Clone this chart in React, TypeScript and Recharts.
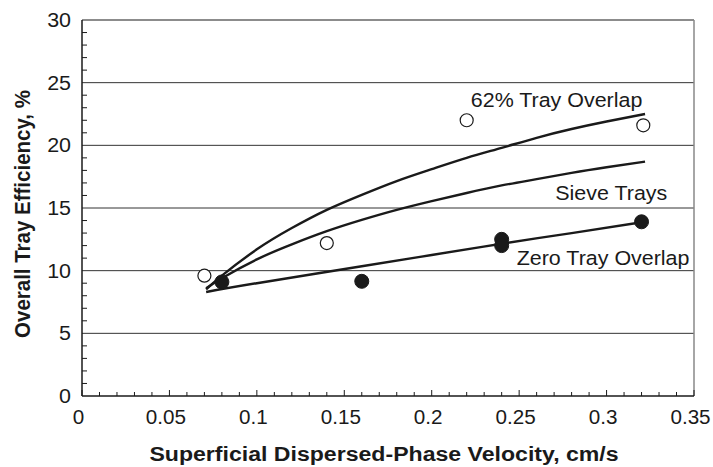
import { ComposedChart, Line, Scatter, XAxis, YAxis, CartesianGrid, ReferenceLine, ReferenceDot } from 'recharts'

// measured points
const openX = [0.07, 0.14, 0.22, 0.321]
const openY = [9.6, 12.2, 22.0, 21.6]
const filledX = [0.08, 0.16, 0.24, 0.24, 0.32]
const filledY = [9.1, 9.15, 12.5, 12.0, 13.9]

// correlation curves
const overlapX = [0.071, 0.08, 0.1, 0.12, 0.14, 0.16, 0.18, 0.2, 0.22, 0.24, 0.26, 0.28, 0.3, 0.322]
const overlapY = [8.5, 9.6, 11.7, 13.4, 14.85, 16.05, 17.15, 18.1, 19.0, 19.8, 20.6, 21.3, 21.9, 22.5]
const sieveX = [0.071, 0.08, 0.1, 0.12, 0.14, 0.16, 0.18, 0.2, 0.22, 0.24, 0.26, 0.28, 0.3, 0.322]
const sieveY = [8.6, 9.4, 10.9, 12.1, 13.15, 14.05, 14.85, 15.55, 16.2, 16.8, 17.3, 17.8, 18.25, 18.7]
const zeroX = [0.071, 0.1, 0.16, 0.2, 0.24, 0.28, 0.322]
const zeroY = [8.3, 9.0, 10.35, 11.25, 12.15, 13.0, 13.9]

const gridValues = [5, 10, 15, 20, 25, 30]
const curveLabels = [
  { text: '62% Tray Overlap', x: 0.2714, y: 23.6 },
  { text: 'Sieve Trays', x: 0.3027, y: 16.2 },
  { text: 'Zero Tray Overlap', x: 0.298, y: 11.0 },
]

const xTicks = Array.from({ length: 36 }, (_, i) => i / 100)
const yTicks = Array.from({ length: 31 }, (_, i) => i)

const pts = (xs: number[], ys: number[]) => xs.map((x, i) => ({ x, y: ys[i] }))

const font = 'Liberation Sans, Arial, sans-serif'
const ink = '#1a1a1a'
const stretch = 1.1 // the source figure is a little wider than tall

const Wide = ({ x, y, anchor, size, bold, sx, children }: any) => (
  <text
    transform={`translate(${x},${y}) scale(${sx ?? stretch},1)`}
    textAnchor={anchor}
    fontSize={size}
    fontWeight={bold ? 'bold' : 'normal'}
    fill={ink}
    fontFamily={font}
  >
    {children}
  </text>
)

const XTick = (props: any) => {
  const { x, y, payload } = props
  const v = payload.value
  const major = Math.abs(v * 20 - Math.round(v * 20)) < 1e-6
  return (
    <g>
      <line x1={x} y1={y} x2={x} y2={y - (major ? 6 : 4)} stroke={ink} strokeWidth={1} />
      {major && (
        <Wide x={x - 3.5} y={y + 28} anchor="middle" size={19.5} sx={1.06}>
          {String(Math.round(v * 100) / 100)}
        </Wide>
      )}
    </g>
  )
}

const YTick = (props: any) => {
  const { x, y, payload } = props
  const v = payload.value
  const major = v % 5 === 0
  return (
    <g>
      {!major && <line x1={x} y1={y} x2={x + 5} y2={y} stroke={ink} strokeWidth={1} />}
      {major && (
        <Wide x={x - 11} y={y + 7} anchor="end" size={19.5}>
          {v}
        </Wide>
      )}
    </g>
  )
}

const XTitle = (props: any) => {
  const { x, y, width } = props.viewBox
  return (
    <Wide x={x + width / 2 - 4} y={y + 65} anchor="middle" size={21} bold>
      Superficial Dispersed-Phase Velocity, cm/s
    </Wide>
  )
}

const YTitle = (props: any) => {
  const { y, height } = props.viewBox
  const cy = y + height / 2 + 6
  return (
    <text
      transform={`translate(30,${cy}) rotate(-90) scale(1,${stretch})`}
      textAnchor="middle"
      fontSize={20.5}
      fontWeight="bold"
      fill={ink}
      fontFamily={font}
    >
      Overall Tray Efficiency, %
    </text>
  )
}

const CurveLabel = (text: string) => (props: any) => {
  const { x, y } = props.viewBox
  return (
    <Wide x={x} y={y + 7} anchor="middle" size={19.5}>
      {text}
    </Wide>
  )
}

const OpenDot = (props: any) => (
  <circle cx={props.cx} cy={props.cy} r={6.5} fill="#fff" stroke={ink} strokeWidth={1.2} />
)
const FilledDot = (props: any) => (
  <circle cx={props.cx} cy={props.cy} r={7} fill={ink} stroke={ink} />
)

export default function App() {
  return (
    <div style={{ position: 'absolute', left: 0, top: 0, background: '#fff' }}>
      <ComposedChart width={713} height={467} margin={{ top: 20, right: 19, bottom: 0, left: 0 }}>
        <CartesianGrid vertical={false} horizontalValues={gridValues} stroke="#333" strokeWidth={1} />
        <XAxis
          type="number"
          dataKey="x"
          domain={[0, 0.35]}
          ticks={xTicks}
          interval={0}
          tickSize={0}
          tickMargin={0}
          tickLine={false}
          tick={<XTick />}
          height={71}
          stroke={ink}
          strokeWidth={1.5}
          allowDataOverflow
          label={{ content: XTitle }}
        />
        <YAxis
          type="number"
          domain={[0, 30]}
          ticks={yTicks}
          interval={0}
          tickSize={0}
          tickMargin={0}
          tickLine={false}
          tick={<YTick />}
          width={82}
          stroke={ink}
          strokeWidth={1.5}
          label={{ content: YTitle }}
        />
        <ReferenceLine x={0.35} stroke="#888" strokeWidth={1.5} />
        <ReferenceLine y={30} stroke="#888" strokeWidth={1.5} />
        <Line data={pts(overlapX, overlapY)} dataKey="y" type="natural" stroke={ink} strokeWidth={2.4} dot={false} isAnimationActive={false} />
        <Line data={pts(sieveX, sieveY)} dataKey="y" type="natural" stroke={ink} strokeWidth={2.4} dot={false} isAnimationActive={false} />
        <Line data={pts(zeroX, zeroY)} dataKey="y" type="natural" stroke={ink} strokeWidth={2.4} dot={false} isAnimationActive={false} />
        <Scatter data={pts(openX, openY)} dataKey="y" shape={<OpenDot />} isAnimationActive={false} />
        <Scatter data={pts(filledX, filledY)} dataKey="y" shape={<FilledDot />} isAnimationActive={false} />
        {curveLabels.map((l) => (
          <ReferenceDot
            key={l.text}
            x={l.x}
            y={l.y}
            r={0}
            fill="none"
            stroke="none"
            label={{ content: CurveLabel(l.text) }}
          />
        ))}
      </ComposedChart>
    </div>
  )
}
